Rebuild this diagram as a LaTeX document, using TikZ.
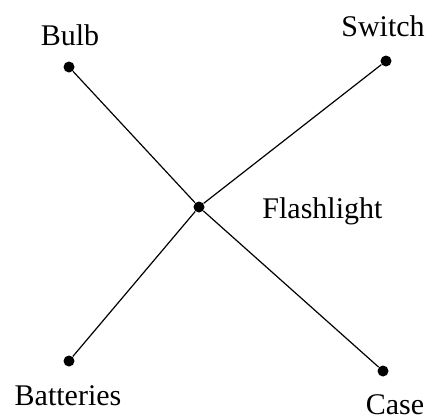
\documentclass[tikz,border=0pt]{standalone}
\usepackage{fontspec}
\setmainfont{Liberation Serif}
\usetikzlibrary{positioning}
\tikzset{
  dot/.style={circle, fill=black, inner sep=0pt, minimum size=5.5pt},
  lbl/.style={font=\fontsize{15}{18}\selectfont, inner sep=0pt},
  wire/.style={line width=0.6pt}
}

\begin{document}
\begin{tikzpicture}[x=0.5pt, y=-0.5pt]
      \useasboundingbox (0,0) rectangle (431,418);
      \node[dot] (bulb) at (69,67) {};
      \node[dot] (switch) at (386,61) {};
      \node[dot] (flash) at (199,207) {};
      \node[dot] (batt) at (69,361) {};
      \node[dot] (case) at (383,371) {};
      \node[lbl, anchor=base] (bulbtxt) at (70,45) {Bulb};
      \node[lbl, anchor=base] (switchtxt) at (383,36) {Switch};
      \node[lbl, anchor=base west] (flashtxt) at (262,218) {Flashlight};
      \node[lbl, anchor=base] (batttxt) at (68,405) {Batteries};
      \node[lbl, anchor=base] (casetxt) at (395,414) {Case};
      \draw[wire] (bulb) -- (flash);
      \draw[wire] (flash) -- (case);
      \draw[wire] (switch) -- (flash);
      \draw[wire] (flash) -- (batt);
    \end{tikzpicture}
\end{document}
